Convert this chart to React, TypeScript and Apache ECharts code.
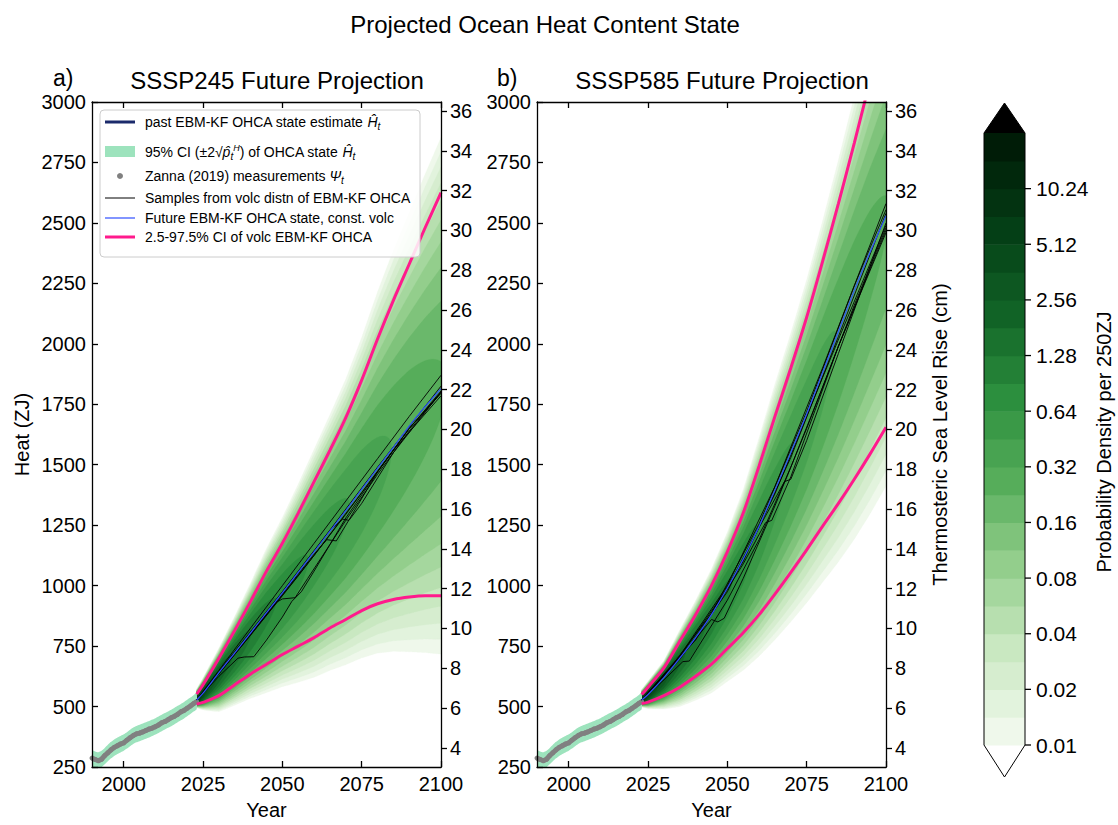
import React, { useEffect, useRef } from 'react';
import * as echarts from 'echarts';

// ---------- data ----------
const PAST_YEARS = [1990,1991,1992,1993,1994,1995,1996,1997,1998,1999,2000,2001,2002,2003,2004,2005,2006,2007,2008,2009,2010,2011,2012,2013,2014,2015,2016,2017,2018,2019,2020,2021,2022,2023];
const PAST_EST = [285,280,277,283,295,308,320,330,338,344,351,360,370,379,386,391,396,401,406,412,418,425,432,439,446,453,461,469,477,485,494,503,513,523];
const PAST_CI_HALF = 34;
const MEAS = [287,281,276,282,297,309,321,331,338,345,350,361,371,380,387,390,395,401,407,411,417,424,433,438,446,454,460,468,478,484,493,502,512,520];

const FUT_YEARS = [2023,2025,2030,2035,2040,2045,2050,2055,2060,2065,2070,2075,2080,2085,2090,2095,2100];
// SSP245
const CENTER_245 = [527,555,640,722,805,888,970,1055,1140,1225,1310,1398,1485,1572,1660,1740,1815];
const UPPER_245 = [551,590,700,815,935,1060,1175,1300,1430,1560,1695,1850,2020,2180,2330,2480,2625];
const LOWER_245 = [510,517,545,590,635,675,715,750,785,825,860,897,925,943,953,958,958];
// SSP585
const CENTER_585 = [527,550,620,700,785,880,990,1110,1245,1395,1550,1710,1880,2050,2220,2380,2530];
const UPPER_585 = [550,580,660,770,880,1000,1140,1300,1495,1700,1900,2110,2340,2580,2830,3090,3350];
const LOWER_585 = [512,518,545,580,625,675,740,805,880,965,1055,1148,1245,1340,1440,1545,1655];

const SAMPLES_245: number[][][] = [
  [[2023,527],[2030,650],[2040,825],[2050,1000],[2060,1175],[2070,1350],[2080,1525],[2090,1700],[2100,1870]],
  [[2023,527],[2030,625],[2036,700],[2038,705],[2041,706],[2045,775],[2050,870],[2053,935],[2056,975],[2060,1060],[2065,1170],[2070,1280],[2080,1470],[2090,1650],[2100,1800]],
  [[2023,527],[2030,640],[2040,800],[2048,930],[2050,945],[2054,950],[2058,1030],[2065,1170],[2070,1270],[2080,1460],[2090,1640],[2100,1800]],
  [[2023,527],[2030,635],[2040,800],[2050,965],[2060,1130],[2064,1190],[2067,1185],[2070,1250],[2080,1470],[2090,1650],[2100,1805]],
  [[2023,527],[2035,720],[2050,968],[2065,1228],[2069,1275],[2071,1270],[2075,1340],[2085,1550],[2100,1800]],
  [[2023,527],[2035,715],[2050,960],[2060,1125],[2075,1385],[2090,1650],[2100,1795]],
  [[2023,527],[2035,728],[2050,975],[2065,1230],[2080,1490],[2100,1825]],
  [[2023,527],[2040,795],[2055,1040],[2070,1295],[2085,1560],[2100,1785]],
];
const SAMPLES_585: number[][][] = [
  [[2023,527],[2030,610],[2036,686],[2038,688],[2040,730],[2050,940],[2060,1190],[2070,1490],[2080,1820],[2090,2160],[2100,2480]],
  [[2023,527],[2035,700],[2045,860],[2047,850],[2049,865],[2055,1030],[2065,1330],[2075,1650],[2085,1990],[2100,2470]],
  [[2023,527],[2035,710],[2050,1000],[2065,1410],[2080,1900],[2100,2580]],
  [[2023,527],[2035,705],[2050,990],[2060,1240],[2068,1430],[2070,1440],[2075,1600],[2085,1960],[2100,2500]],
  [[2023,527],[2040,780],[2055,1100],[2070,1530],[2085,2030],[2100,2540]],
  [[2023,527],[2035,695],[2050,975],[2065,1380],[2080,1860],[2100,2490]],
  [[2023,527],[2030,625],[2045,885],[2060,1255],[2075,1720],[2090,2240],[2100,2555]],
  [[2023,527],[2040,775],[2055,1090],[2062,1260],[2064,1270],[2070,1450],[2085,1990],[2100,2460]],
];

const X_TICKS = [2000, 2025, 2050, 2075, 2100];
const CM_TICKS = [4,6,8,10,12,14,16,18,20,22,24,26,28,30,32,34,36];
const ZJ_PER_CM = 82.3;
const CB_LABELS = ['0.01','0.02','0.04','0.08','0.16','0.32','0.64','1.28','2.56','5.12','10.24'];
const N_LEVELS = 22;
const BASE_LEVEL = 0.01;

// ---------- styling ----------
const FONT = "'Liberation Sans', Arial, Helvetica, sans-serif";
const TICK_SIZE = 20;
const NAVY = '#1b2a6b';
const CI_GREEN = '#9de3bd';
const GREY = '#808080';
const BLUE = '#2f4fff';
const PINK = '#ff1a8c';
const CB_STOPS: [number, string][] = [[0,'#eff8eb'],[3,'#c9e8c1'],[6,'#93ce8c'],[9,'#56ad5a'],[12,'#2c8f3e'],[15,'#116326'],[18,'#043f16'],[21,'#001c07']];

function hex(c: string) { return [1,3,5].map(i => parseInt(c.slice(i, i+2), 16)); }
function levelColor(k: number) {
  for (let i = 0; i < CB_STOPS.length - 1; i++) {
    const [a, ca] = CB_STOPS[i]; const [b, cb] = CB_STOPS[i+1];
    if (k >= a && k <= b) {
      const f = (k - a) / (b - a); const A = hex(ca), B = hex(cb);
      return 'rgb(' + A.map((v, j) => Math.round(v + (B[j] - v) * f)).join(',') + ')';
    }
  }
  return CB_STOPS[CB_STOPS.length-1][1];
}
function interp(xs: number[], ys: number[], t: number) {
  if (t <= xs[0]) return ys[0];
  for (let i = 0; i < xs.length - 1; i++) {
    if (t <= xs[i+1]) { const f = (t - xs[i]) / (xs[i+1] - xs[i]); return ys[i] + (ys[i+1] - ys[i]) * f; }
  }
  return ys[ys.length-1];
}

function densityRender(C: number[], U: number[], L: number[]) {
  return (params: any, api: any) => {
    const k = api.value(2);
    const d = BASE_LEVEL * Math.pow(2, k / 2);
    const up: number[][] = []; const lo: number[][] = [];
    const t0 = FUT_YEARS[0], t1 = FUT_YEARS[FUT_YEARS.length-1];
    const steps = Math.round((t1 - t0) / 0.25);
    for (let i = 0; i <= steps; i++) {
      const t = t0 + i * 0.25;
      const c = interp(FUT_YEARS, C, t), u = interp(FUT_YEARS, U, t), l = interp(FUT_YEARS, L, t);
      const su = (u - c) / 1.96, sl = (c - l) / 1.96, s = (su + sl) / 2;
      const p = 250 / (Math.sqrt(2 * Math.PI) * s);
      if (p <= d) { if (up.length) up.push(api.coord([t, c])); break; }
      const w = Math.sqrt(2 * Math.log(p / d));
      up.push(api.coord([t, c + su * w])); lo.push(api.coord([t, c - sl * w]));
    }
    if (!up.length) return { type: 'group', children: [] };
    const points = up.concat(lo.reverse());
    return { type: 'polygon', shape: { points }, style: { fill: levelColor(k), stroke: levelColor(k), lineWidth: 0.3 } };
  };
}

function ciRender(params: any, api: any) {
  const up = PAST_YEARS.map((y, i) => api.coord([y, PAST_EST[i] + PAST_CI_HALF]));
  const lo = PAST_YEARS.map((y, i) => api.coord([y, PAST_EST[i] - PAST_CI_HALF])).reverse();
  return { type: 'polygon', shape: { points: up.concat(lo), smooth: 0.2 }, style: { fill: CI_GREEN } };
}

const pairs = (xs: number[], ys: number[]) => xs.map((x, i) => [x, ys[i]]);

function panelSeries(g: number, yIdx: number, C: number[], U: number[], L: number[], samples: number[][][]) {
  const base = { xAxisIndex: g, yAxisIndex: yIdx };
  const s: any[] = [];
  s.push({ ...base, type: 'custom', name: 'density', clip: true, z: 1, renderItem: densityRender(C, U, L),
    data: Array.from({ length: N_LEVELS }, (_, k) => [2060, 1000, k]), encode: { x: 0, y: 1 }, silent: true });
  s.push({ ...base, type: 'custom', name: 'ci', clip: true, z: 2, renderItem: ciRender, data: [[2000, 400, 0]], encode: { x: 0, y: 1 }, silent: true });
  s.push({ ...base, type: 'line', name: 'past', z: 3, showSymbol: false, data: pairs(PAST_YEARS, PAST_EST), lineStyle: { color: NAVY, width: 2 }, itemStyle: { color: NAVY } });
  s.push({ ...base, type: 'line', name: 'meas', z: 4, symbol: 'circle', symbolSize: 5, showSymbol: true, data: pairs(PAST_YEARS, MEAS), lineStyle: { color: GREY, width: 5 }, itemStyle: { color: GREY } });
  samples.forEach((sm, i) => s.push({ ...base, type: 'line', name: 'sample' + i, z: 5, showSymbol: false, data: sm, lineStyle: { color: '#000', width: 0.9 } }));
  s.push({ ...base, type: 'line', name: 'future', z: 6, showSymbol: false, smooth: 0.3, data: pairs(FUT_YEARS, C), lineStyle: { color: BLUE, width: 1.2 } });
  s.push({ ...base, type: 'line', name: 'upper', z: 7, showSymbol: false, smooth: 0.3, data: pairs(FUT_YEARS, U), lineStyle: { color: PINK, width: 3 } });
  s.push({ ...base, type: 'line', name: 'lower', z: 7, showSymbol: false, smooth: 0.3, data: pairs(FUT_YEARS, L), lineStyle: { color: PINK, width: 3 } });
  return s;
}

const axisLine = { show: true, onZero: false, lineStyle: { color: '#000', width: 1.3 } };
const tickStyle = { color: '#000', width: 1.3 };
const labelStyle = { color: '#000', fontSize: TICK_SIZE, fontFamily: FONT, formatter: (v: number) => String(v) };
const nameStyle = { color: '#000', fontSize: 20, fontFamily: FONT };

function bottomAxis(g: number) {
  return { type: 'value', gridIndex: g, min: 1990, max: 2100, position: 'bottom', z: 10, axisLine,
    axisTick: { show: true, inside: true, length: 6, customValues: X_TICKS, lineStyle: tickStyle },
    axisLabel: { ...labelStyle, margin: 7, customValues: X_TICKS }, splitLine: { show: false },
    name: 'Year', nameLocation: 'middle', nameGap: 33, nameTextStyle: nameStyle };
}
function topAxis(g: number) {
  return { type: 'value', gridIndex: g, min: 1990, max: 2100, position: 'top', z: 10, axisLine,
    axisTick: { show: true, inside: true, length: 6, customValues: X_TICKS, lineStyle: tickStyle },
    axisLabel: { show: false }, splitLine: { show: false } };
}
function leftAxis(g: number, name: string) {
  return { type: 'value', gridIndex: g, min: 250, max: 3000, interval: 250, position: 'left', z: 10, axisLine,
    axisTick: { show: true, inside: true, length: 6, lineStyle: tickStyle },
    axisLabel: { ...labelStyle, margin: 6 }, splitLine: { show: false },
    name, nameLocation: 'middle', nameGap: 60, nameTextStyle: nameStyle };
}
function rightAxis(g: number, name: string) {
  return { type: 'value', gridIndex: g, min: 250 / ZJ_PER_CM, max: 3000 / ZJ_PER_CM, position: 'right', z: 10, axisLine,
    axisTick: { show: true, inside: false, length: 6, customValues: CM_TICKS, lineStyle: tickStyle },
    axisLabel: { ...labelStyle, margin: 9, customValues: CM_TICKS }, splitLine: { show: false },
    name, nameLocation: 'middle', nameGap: 44, nameRotate: 90, nameTextStyle: nameStyle };
}

function legendGraphics() {
  const x0 = 105, x1 = 135, tx = 145;
  const rich = {
    it: { fontStyle: 'italic', fontSize: 14, fontFamily: FONT, color: '#000' },
    sub: { fontStyle: 'italic', fontSize: 10, fontFamily: FONT, color: '#000', verticalAlign: 'bottom', padding: [8, 0, 0, 0] },
    sup: { fontStyle: 'italic', fontSize: 9, fontFamily: FONT, color: '#000', verticalAlign: 'top', padding: [0, 0, 8, 0] },
  };
  const txt = (y: number, text: string) => ({ type: 'text', x: tx, y, z: 101,
    style: { text, rich, fill: '#000', fontSize: 14, fontFamily: FONT, verticalAlign: 'middle', align: 'left' } });
  const rows = [122, 152, 176, 198, 218, 237];
  return [
    { type: 'rect', z: 100, shape: { x: 100, y: 110, width: 320, height: 147, r: 4 }, style: { fill: 'rgba(255,255,255,0.85)', stroke: '#cccccc', lineWidth: 1 } },
    { type: 'line', z: 101, shape: { x1: x0, y1: rows[0], x2: x1, y2: rows[0] }, style: { stroke: NAVY, lineWidth: 3 } },
    { type: 'rect', z: 101, shape: { x: x0, y: rows[1] - 6, width: 30, height: 11 }, style: { fill: CI_GREEN } },
    { type: 'circle', z: 101, shape: { cx: 120, cy: rows[2], r: 3 }, style: { fill: GREY } },
    { type: 'line', z: 101, shape: { x1: x0, y1: rows[3], x2: x1, y2: rows[3] }, style: { stroke: '#000', lineWidth: 1 } },
    { type: 'line', z: 101, shape: { x1: x0, y1: rows[4], x2: x1, y2: rows[4] }, style: { stroke: BLUE, lineWidth: 1.2 } },
    { type: 'line', z: 101, shape: { x1: x0, y1: rows[5], x2: x1, y2: rows[5] }, style: { stroke: PINK, lineWidth: 3 } },
    txt(rows[0], 'past EBM-KF OHCA state estimate {it|Ĥ}{sub|t}'),
    txt(rows[1], '95% CI (±2√{it|p̂}{sub|t}{sup|H}) of OHCA state {it|Ĥ}{sub|t}'),
    txt(rows[2], 'Zanna (2019) measurements {it|Ψ}{sub|t}'),
    txt(rows[3], 'Samples from volc distn of EBM-KF OHCA'),
    txt(rows[4], 'Future EBM-KF OHCA state, const. volc'),
    txt(rows[5], '2.5-97.5% CI of volc EBM-KF OHCA'),
  ];
}

function colorbarGraphics() {
  const x = 984, w = 41, top = 133, bottom = 745;
  const h = (bottom - top) / N_LEVELS;
  const els: any[] = [];
  for (let k = 0; k < N_LEVELS; k++) {
    els.push({ type: 'rect', shape: { x, y: bottom - (k + 1) * h, width: w, height: h + 0.6 }, style: { fill: levelColor(k) } });
  }
  els.push({ type: 'polygon', shape: { points: [[x, top], [x + w, top], [x + w / 2, 103]] }, style: { fill: '#000' } });
  els.push({ type: 'polygon', shape: { points: [[x, top], [x + w / 2, 103], [x + w, top], [x + w, bottom], [x + w / 2, 777], [x, bottom]] }, style: { fill: 'none', stroke: '#000', lineWidth: 1 } });
  CB_LABELS.forEach((lab, j) => {
    const y = bottom - 2 * j * h;
    els.push({ type: 'line', shape: { x1: x + w, y1: y, x2: x + w + 6, y2: y }, style: { stroke: '#000', lineWidth: 1.3 } });
    els.push({ type: 'text', x: x + w + 11, y, style: { text: lab, fill: '#000', fontSize: 21, fontFamily: FONT, verticalAlign: 'middle', align: 'left' } });
  });
  els.push({ type: 'text', x: 1104, y: 442, rotation: Math.PI / 2, style: { text: 'Probability Density per 250ZJ', fill: '#000', fontSize: 20, fontFamily: FONT, align: 'center', verticalAlign: 'middle' } });
  return els;
}

function titleGraphics() {
  const t = (x: number, y: number, text: string, size: number, align = 'center') => ({ type: 'text', x, y,
    style: { text, fill: '#000', fontSize: size, fontFamily: FONT, align, verticalAlign: 'middle' } });
  return [
    t(545, 24, 'Projected Ocean Heat Content State', 24),
    t(277, 80, 'SSSP245 Future Projection', 24),
    t(722, 80, 'SSSP585 Future Projection', 24),
    t(53, 78, 'a)', 23, 'left'),
    t(497, 78, 'b)', 23, 'left'),
  ];
}

function buildOption(): any {
  return {
    animation: false,
    backgroundColor: '#fff',
    textStyle: { fontFamily: FONT },
    grid: [
      { left: 92, top: 102, width: 349, height: 675 },
      { left: 537, top: 102, width: 349, height: 675 },
    ],
    xAxis: [bottomAxis(0), bottomAxis(1), topAxis(0), topAxis(1)],
    yAxis: [leftAxis(0, 'Heat (ZJ)'), rightAxis(0, ''), leftAxis(1, ''), rightAxis(1, 'Thermosteric Sea Level Rise (cm)')],
    series: [
      ...panelSeries(0, 0, CENTER_245, UPPER_245, LOWER_245, SAMPLES_245),
      ...panelSeries(1, 2, CENTER_585, UPPER_585, LOWER_585, SAMPLES_585),
    ],
    graphic: [...titleGraphics(), ...legendGraphics(), ...colorbarGraphics()],
  };
}

export default function App() {
  const ref = useRef<HTMLDivElement>(null);
  useEffect(() => {
    const chart = echarts.init(ref.current!, null, { renderer: 'svg' });
    chart.setOption(buildOption());
    return () => chart.dispose();
  }, []);
  return <div ref={ref} style={{ position: 'fixed', left: 0, top: 0, width: 1118, height: 825, background: '#fff' }} />;
}
